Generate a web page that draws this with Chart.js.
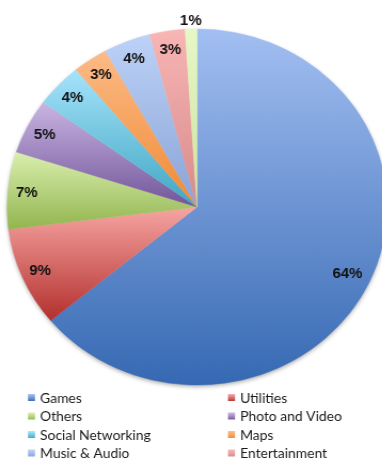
<!DOCTYPE html>
<html>
<head>
<meta charset="utf-8">
<script src="https://cdn.jsdelivr.net/npm/chart.js@4"></script>
<style>
  html, body { margin: 0; padding: 0; background: #fff; overflow: hidden; width: 382px; height: 463px; }
  /* the pie is slightly wider than tall, so the whole canvas is stretched a little */
  #wrap { width: 400px; height: 463px; transform: scaleX(1.0674); transform-origin: 0 0; }
</style>
</head>
<body>
<div id="wrap"><canvas id="appChart" width="400" height="463"></canvas></div>
<script>
// Share of apps per category (%)
const categories = ['Games', 'Utilities', 'Others', 'Photo and Video', 'Social Networking',
                    'Maps', 'Music & Audio', 'Entertainment', 'Books'];
const shares = [64, 9, 7, 5, 4, 3, 4, 3, 1];

// gradient colours for each slice: top -> bottom
const shadeTop = ['#a3bff2', '#f6a5a2', '#d9efae', '#c9b5e2', '#a6e3fb', '#fcbb88', '#bcd2f8', '#f8b6b5', '#e6f8c6'];
const shadeBottom = ['#3669b3', '#b3302d', '#93b54f', '#72559a', '#3fa6c3', '#f08a33', '#8aa3d6', '#d68a8a', '#cde3a0'];

const PIE_R = 178;

// vertical extent of one slice, so every slice gets its own gradient
function sliceBounds(chart, index) {
  const area = chart.chartArea;
  const cy = (area.top + area.bottom) / 2;
  const total = shares.reduce((a, b) => a + b, 0);
  let start = -Math.PI / 2;
  for (let i = 0; i < index; i++) start += shares[i] / total * 2 * Math.PI;
  const end = start + shares[index] / total * 2 * Math.PI;
  let minY = cy, maxY = cy;
  for (let k = 0; k <= 40; k++) {
    const y = cy + PIE_R * Math.sin(start + (end - start) * k / 40);
    minY = Math.min(minY, y);
    maxY = Math.max(maxY, y);
  }
  return { minY, maxY };
}

function sliceFill(context) {
  const chart = context.chart;
  const i = context.dataIndex;
  if (!chart.chartArea) return shadeBottom[i];
  const b = sliceBounds(chart, i);
  const g = chart.ctx.createLinearGradient(0, b.minY, 0, b.maxY);
  g.addColorStop(0, shadeTop[i]);
  g.addColorStop(1, shadeBottom[i]);
  return g;
}

// soft shadow under the pie
const pieShadow = {
  id: 'pieShadow',
  beforeDatasetsDraw(chart) {
    const arc = chart.getDatasetMeta(0).data[0];
    if (!arc) return;
    const ctx = chart.ctx;
    ctx.save();
    ctx.shadowColor = 'rgba(0,0,0,0.45)';
    ctx.shadowBlur = 5;
    ctx.shadowOffsetY = 2;
    ctx.fillStyle = '#fff';
    ctx.beginPath();
    ctx.arc(arc.x, arc.y, arc.outerRadius - 1, 0, Math.PI * 2);
    ctx.fill();
    ctx.restore();
  }
};

// percentage labels inside the slices (tiny slices get theirs outside)
const pctLabels = {
  id: 'pctLabels',
  afterDatasetsDraw(chart) {
    const ctx = chart.ctx;
    const meta = chart.getDatasetMeta(0);
    ctx.save();
    ctx.font = 'bold 14px "Liberation Sans", Arial, sans-serif';
    ctx.fillStyle = '#111';
    ctx.textAlign = 'center';
    ctx.textBaseline = 'middle';
    meta.data.forEach((arc, i) => {
      const mid = (arc.startAngle + arc.endAngle) / 2;
      const k = shares[i] < 2 ? 1.05 : (shares[i] > 50 ? 0.875 : 0.9);
      ctx.fillText(shares[i] + '%',
        arc.x + Math.cos(mid) * arc.outerRadius * k,
        arc.y + Math.sin(mid) * arc.outerRadius * k + 1);
    });
    ctx.restore();
  }
};

// two-column legend under the pie
const gridLegend = {
  id: 'gridLegend',
  afterDraw(chart) {
    const ctx = chart.ctx;
    const colX = [26.2, 213.6];
    const rows = 4;
    ctx.save();
    ctx.font = '13px Lato, "Liberation Sans", sans-serif';
    ctx.textBaseline = 'middle';
    for (let i = 0; i < rows * 2 && i < categories.length; i++) {
      const x = colX[i % 2];
      const y = 398 + Math.floor(i / 2) * 18.5;
      const g = ctx.createLinearGradient(0, y - 3.5, 0, y + 3.5);
      g.addColorStop(0, shadeTop[i]);
      g.addColorStop(1, shadeBottom[i]);
      ctx.fillStyle = g;
      ctx.fillRect(x, y - 4, 6.6, 7);
      ctx.fillStyle = '#1a1a1a';
      ctx.fillText(categories[i], x + 11.3, y + 0.5);
    }
    ctx.restore();
  }
};

new Chart(document.getElementById('appChart'), {
  type: 'pie',
  data: {
    labels: categories,
    datasets: [{
      data: shares,
      backgroundColor: sliceFill,
      borderColor: sliceFill,
      borderWidth: 0.5,
      hoverOffset: 0,
      radius: PIE_R
    }]
  },
  options: {
    responsive: false,
    animation: false,
    layout: { padding: { left: 0, top: 0, right: 30.8, bottom: 49 } },
    plugins: {
      legend: { display: false },
      tooltip: { enabled: false }
    }
  },
  plugins: [pieShadow, pctLabels, gridLegend]
});
</script>
</body>
</html>
